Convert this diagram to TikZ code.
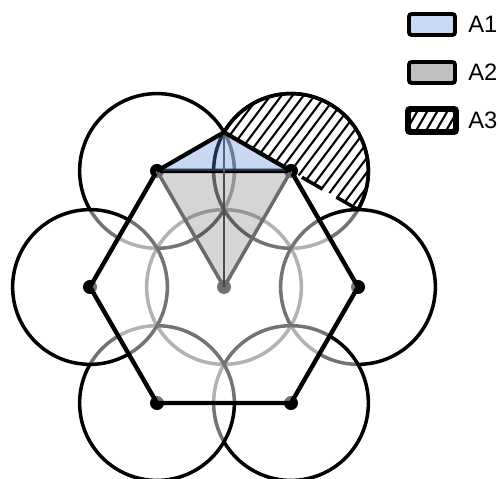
\documentclass[tikz,border=0pt]{standalone}
\usepackage{fontspec}
\setmainfont{Liberation Sans}
\usepackage{tikz}
\usetikzlibrary{calc, positioning}

\definecolor{areablue}{rgb}{0.4,0.57,0.86}
\colorlet{a1light}{areablue!35!white}
\colorlet{a2dark}{black!58}

\tikzset{
    circ/.style={black, line width=2pt, fill=white, fill opacity=.45},
    hexline/.style={black, line width=2.5pt, line join=round},
    hatch/.style={black, line width=1.2pt},
    legbox/.style={draw=black, line width=2.2pt, rounded corners=1.5pt,
        minimum width=0.92cm, minimum height=0.42cm, inner sep=0pt},
    legtext/.style={inner sep=0pt, font=\fontsize{13.5}{16}\selectfont}
}

\begin{document}
\begin{tikzpicture}[x=0.02cm, y=0.02cm]
            \useasboundingbox (0,0) rectangle (500,479);
            \def\r{77.36}
            \coordinate (O) at (224,192);
            \foreach \p/\a in {A/0, B/60, C/120, D/180, E/240, F/300}
                \coordinate (\p) at ($(O)+(\a:134)$);
            \coordinate (T) at ($(O)+(90:{2*\r})$);
            \coordinate (K) at ($(T)!2!(B)$);

            \draw[black, line width=2pt] (O) circle[radius=\r];
            \foreach \p in {C, B, A, F, E, D}
                \draw[circ] (\p) circle[radius=\r];
            \foreach \p in {O, A, B, C, D, E, F}
                \fill[black] (\p) circle[radius=7];
            \draw[hexline, fill=white, fill opacity=.45] (A) -- (B) -- (C) -- (D) -- (E) -- (F) -- cycle;

            \fill[black, fill opacity=.16] (C) -- (O) -- (B) -- cycle;
            \draw[a2dark, line width=2pt, line join=round] (C) -- (O) -- (B);
            \draw[black!70, line width=0.7pt] (T) -- (O);
            \fill[areablue, fill opacity=.35] (C) -- (T) -- (B) -- cycle;
            \draw[black, line width=2.4pt, line join=round] (C) -- (T) -- (B);

            \begin{scope}
                \clip (T) arc[start angle=150, end angle=-30, radius=\r] -- cycle;
                \foreach \k in {-10,...,10}
                    \draw[hatch] ($(B)+({\k*7.04},{\k*(-5.28)})+(-60,-80)$) -- ++(120,160);
            \end{scope}
            \draw[black, line width=2pt] (T) arc[start angle=150, end angle=-30, radius=\r];
            \draw[black, line width=2pt, dash pattern=on 13.6pt off 9.1pt, dash phase=15.5pt] (B) -- (K);

            \node[legbox, fill=a1light] (l1) at (432,454.5) {};
            \node[legtext, right=0.22cm of l1] (t1) {A1};
            \node[legbox, fill=black!25] (l2) at (432,406.5) {};
            \node[legtext, right=0.22cm of l2] (t2) {A2};
            \node[legbox, fill=white] (l3) at (432,358.5) {};
            \node[legtext, right=0.22cm of l3] (t3) {A3};
            \begin{scope}
                \clip (l3.south west) rectangle (l3.north east);
                \foreach \k in {-5,...,5}
                    \draw[hatch] ($(l3.center)+({\k*7.5},{\k*(-4.35)})+(-20,-34.6)$) -- ++(40,69.2);
            \end{scope}
            \draw[black, line width=2.2pt, rounded corners=1.5pt] (l3.south west) rectangle (l3.north east);
\end{tikzpicture}
\end{document}
